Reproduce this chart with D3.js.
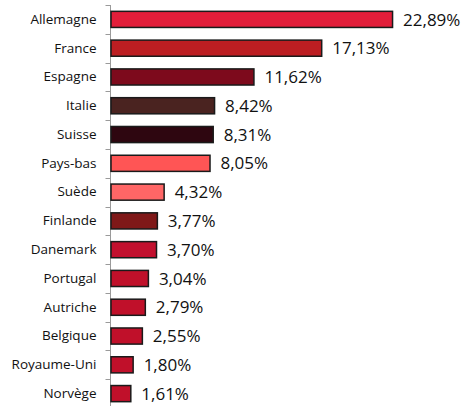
<!DOCTYPE html>
<html>
<head>
<meta charset="utf-8">
<script src="https://cdn.jsdelivr.net/npm/d3@7"></script>
<style>
  body { margin: 0; background: #fff; }
  svg { display: block; }
</style>
</head>
<body>
<div id="chart-area"></div>
<script>
var pays = ["Allemagne", "France", "Espagne", "Italie", "Suisse", "Pays-bas", "Suède",
            "Finlande", "Danemark", "Portugal", "Autriche", "Belgique", "Royaume-Uni", "Norvège"];
var parts = [22.89, 17.13, 11.62, 8.42, 8.31, 8.05, 4.32, 3.77, 3.70, 3.04, 2.79, 2.55, 1.80, 1.61];
var couleurs = ["#e21e3a", "#bc1e22", "#7d0a1c", "#4a2320", "#2e0610", "#ff5555", "#ff6666",
                "#7f1818", "#c2102e", "#c0102a", "#c0102a", "#c0102a", "#c0102a", "#c0102a"];

var margin = { left: 110.5, right: 10, top: 5, bottom: 0 };
var width = 462 - margin.left - margin.right,
    height = 408 - margin.top - margin.bottom;

var svg = d3.select("#chart-area")
    .append("svg")
        .attr("width", 462)
        .attr("height", 406);

var g = svg.append("g")
    .attr("transform", "translate(" + margin.left + "," + margin.top + ")");

var y = d3.scaleBand()
    .domain(pays)
    .range([0, height])
    .paddingInner(0.44)
    .paddingOuter(0.22);

var x = d3.scaleLinear()
    .domain([0, 25])
    .range([0, 307.5]);

// axe vertical avec graduations entre les catégories
g.append("line")
    .attr("x1", 0).attr("x2", 0)
    .attr("y1", 0).attr("y2", height)
    .attr("stroke", "#9a9a9a")
    .attr("stroke-width", 1);

g.selectAll(".tick-mark")
    .data(d3.range(pays.length + 1))
    .enter()
    .append("line")
        .attr("class", "tick-mark")
        .attr("x1", -5).attr("x2", 0)
        .attr("y1", (d) => Math.round(d * y.step()) + 0.5)
        .attr("y2", (d) => Math.round(d * y.step()) + 0.5)
        .attr("stroke", "#9a9a9a");

var yAxisCall = d3.axisLeft(y).tickSize(0).tickPadding(14);
g.append("g")
    .attr("class", "y axis")
    .call(yAxisCall)
    .call((s) => s.select(".domain").remove())
    .selectAll("text")
        .attr("font-family", "Open Sans, sans-serif")
        .attr("font-size", "13.5px")
        .attr("fill", "#111");

g.selectAll("rect")
    .data(parts)
    .enter()
    .append("rect")
        .attr("x", 0.5)
        .attr("y", (d, i) => y(pays[i]))
        .attr("width", (d) => x(d))
        .attr("height", y.bandwidth())
        .attr("fill", (d, i) => couleurs[i])
        .attr("stroke", "#1a1a1a")
        .attr("stroke-width", 1.5);

g.selectAll(".valeur")
    .data(parts)
    .enter()
    .append("text")
        .attr("class", "valeur")
        .attr("x", (d) => x(d) + 11)
        .attr("y", (d, i) => y(pays[i]) + y.bandwidth() / 2)
        .attr("dy", "0.36em")
        .attr("font-family", "Open Sans, sans-serif")
        .attr("font-size", "17px")
        .attr("fill", "#111")
        .text((d) => d.toFixed(2).replace(".", ",") + "%");
</script>
</body>
</html>
